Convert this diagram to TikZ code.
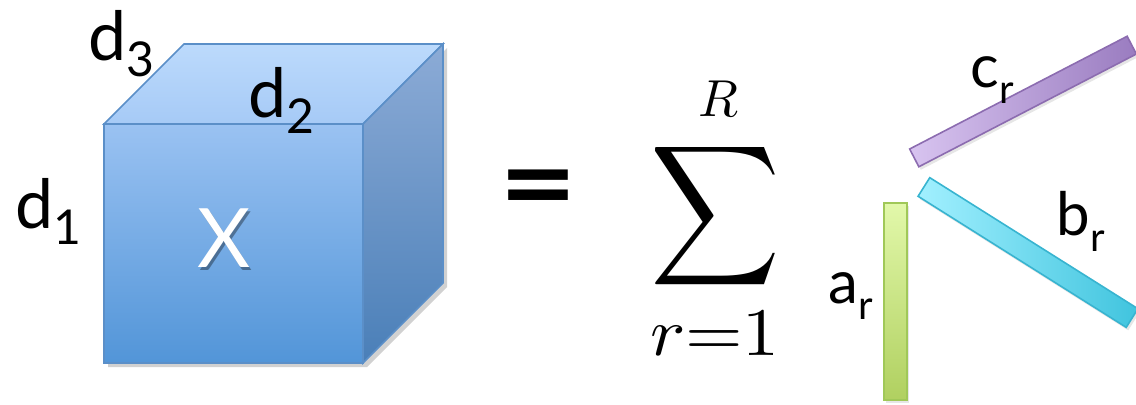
\documentclass[tikz,border=0pt]{standalone}
\usepackage{graphicx}
\usepackage[no-math]{fontspec}
\setmainfont{Lato}
\usetikzlibrary{shadows}

\definecolor{cubeedge}{HTML}{5B8FC8}
\definecolor{fronttop}{HTML}{9AC2F2}
\definecolor{frontbot}{HTML}{5295D8}
\definecolor{topback}{HTML}{BCDAFC}
\definecolor{topfront}{HTML}{A6CAF6}
\definecolor{sidetop}{HTML}{8CABD6}
\definecolor{sidebot}{HTML}{4A7FB8}
\definecolor{atop}{HTML}{E2F8AA}
\definecolor{abot}{HTML}{B0D060}
\definecolor{aedge}{HTML}{A0C858}
\definecolor{cleft}{HTML}{D8C4F0}
\definecolor{cright}{HTML}{9A7CC0}
\definecolor{cedge}{HTML}{8C6CB0}
\definecolor{bleft}{HTML}{A2F0FF}
\definecolor{bright}{HTML}{40C4DE}
\definecolor{bedge}{HTML}{38B4D0}

\newcommand\lblsub[1]{\raisebox{-8pt}{\fontsize{24}{24}\selectfont #1}}
\newcommand\vecsub[1]{\raisebox{-8pt}{\fontsize{20}{20}\selectfont #1}}

\tikzset{
  lbl/.style={font=\fontsize{34}{34}\selectfont, inner sep=0, anchor=base west},
  veclbl/.style={font=\fontsize{30}{30}\selectfont, inner sep=0, anchor=base west},
  bar/.style={draw, line width=0.8pt, inner sep=0,
    drop shadow={shadow xshift=1pt, shadow yshift=-1.5pt, opacity=.2}},
}

\begin{document}
\begin{tikzpicture}[x=0.5pt,y=-0.5pt]
\useasboundingbox (0,0) rectangle (1136,404);
\clip (0,0) rectangle (1136,404);

% cube
\fill[black, opacity=.18] (108,128) -- (367,128) -- (447,48) -- (447,287) -- (367,367) -- (108,367) -- cycle;
\shade[top color=topback, bottom color=topfront, draw=cubeedge, line width=0.8pt]
  (104,124) -- (184,44) -- (443,44) -- (363,124) -- cycle;
\shade[top color=sidetop, bottom color=sidebot, draw=cubeedge, line width=0.8pt]
  (363,124) -- (443,44) -- (443,283) -- (363,363) -- cycle;
\shade[top color=fronttop, bottom color=frontbot, draw=cubeedge, line width=0.8pt]
  (104,124) rectangle (363,363);

\node[font=\fontsize{41}{41}\selectfont, text=black, opacity=.35, inner sep=0] (Xshadow) at (226,241) {X};
\node[font=\fontsize{41}{41}\selectfont, text=white, inner sep=0] (X) at (224,238) {X};

\node[lbl] (d3) at (88,60) {d\lblsub{3}};
\node[lbl] (d2) at (248,117) {d\lblsub{2}};
\node[lbl] (d1) at (15,228) {d\lblsub{1}};

% equation
\node[font=\fontsize{60}{60}\selectfont\bfseries, inner sep=0] (eq) at (538.5,197) {\scalebox{1.12}[0.95]{=}};
\node[inner sep=0] (sum) at (715,216) {\scalebox{4.5}[4.9]{$\displaystyle\sum$}};
\node[inner sep=0] (upper) at (718,99) {\scalebox{2.6}{$R$}};
\node[inner sep=0] (lower) at (715,334) {\scalebox{3.7}[3.4]{$r{=}1$}};

% factor vectors
\node[bar, draw=aedge, top color=atop, bottom color=abot,
  minimum width=11.5pt, minimum height=98.5pt] (abar) at (895.5,301.5) {};
\node[bar, draw=cedge, left color=cleft, right color=cright, rotate=27.4,
  minimum width=122.5pt, minimum height=10pt] (cbar) at (1023,101.5) {};
\node[bar, draw=bedge, left color=bleft, right color=bright, rotate=-32.2,
  minimum width=123pt, minimum height=11pt] (bbar) at (1028,252.5) {};

\node[veclbl] (alabel) at (828,303) {a\vecsub{r}};
\node[veclbl] (blabel) at (1056,235) {b\vecsub{r}};
\node[veclbl] (clabel) at (970,87) {c\vecsub{r}};
\end{tikzpicture}
\end{document}
